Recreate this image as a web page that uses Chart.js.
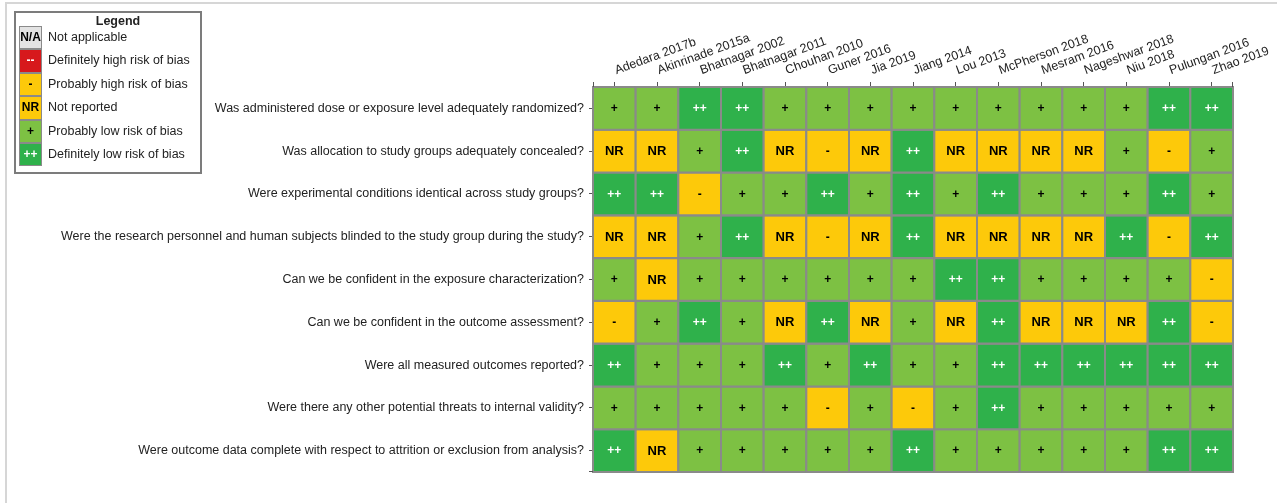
<!DOCTYPE html>
<html>
<head>
<meta charset="utf-8">
<script src="https://cdn.jsdelivr.net/npm/chart.js@4.4.1/dist/chart.umd.min.js"></script>
<style>
  html, body { margin:0; padding:0; background:#fff; width:1277px; height:503px; overflow:hidden; }
  #frame { position:absolute; left:5px; top:2px; width:1300px; height:520px; border-top:2px solid #d6d6d6; border-left:2px solid #d6d6d6; }
  #wrap { position:absolute; left:0; top:0; width:1277px; height:503px; }
  #legend { position:absolute; left:14px; top:11px; width:184px; height:159px; border:2px solid #7c7c7c; background:#fff;
            font-family:"Liberation Sans", Arial, sans-serif; font-size:12.5px; color:#222; }
  #legend .title { position:absolute; left:10px; top:1px; width:100%; text-align:center; font-weight:bold; line-height:15px; }
  #legend .sw { position:absolute; left:3px; width:23px; height:23.4px; box-sizing:border-box; border:1px solid #8a8a8a;
                text-align:center; line-height:21px; font-weight:bold; font-size:12px; }
  #legend .lab { position:absolute; left:32px; line-height:23.4px; white-space:nowrap; }
</style>
</head>
<body>
<div id="frame"></div>
<div id="wrap"><canvas id="c" width="1277" height="503"></canvas></div>
<div id="legend"></div>
<script>
// ---- data ----
const studies = ['Adedara 2017b','Akinrinade 2015a','Bhatnagar 2002','Bhatnagar 2011','Chouhan 2010','Guner 2016','Jia 2019','Jiang 2014','Lou 2013','McPherson 2018','Mesram 2016','Nageshwar 2018','Niu 2018','Pulungan 2016','Zhao 2019'];
const questions = [
  'Was administered dose or exposure level adequately randomized?',
  'Was allocation to study groups adequately concealed?',
  'Were experimental conditions identical across study groups?',
  'Were the research personnel and human subjects blinded to the study group during the study?',
  'Can we be confident in the exposure characterization?',
  'Can we be confident in the outcome assessment?',
  'Were all measured outcomes reported?',
  'Were there any other potential threats to internal validity?',
  'Were outcome data complete with respect to attrition or exclusion from analysis?'
];
const randomized    = ['+','+','++','++','+','+','+','+','+','+','+','+','+','++','++'];
const concealed     = ['NR','NR','+','++','NR','-','NR','++','NR','NR','NR','NR','+','-','+'];
const conditions    = ['++','++','-','+','+','++','+','++','+','++','+','+','+','++','+'];
const blinded       = ['NR','NR','+','++','NR','-','NR','++','NR','NR','NR','NR','++','-','++'];
const exposure      = ['+','NR','+','+','+','+','+','+','++','++','+','+','+','+','-'];
const outcomeAssess = ['-','+','++','+','NR','++','NR','+','NR','++','NR','NR','NR','++','-'];
const reported      = ['++','+','+','+','++','+','++','+','+','++','++','++','++','++','++'];
const otherThreats  = ['+','+','+','+','+','-','+','-','+','++','+','+','+','+','+'];
const attrition     = ['++','NR','+','+','+','+','+','++','+','+','+','+','+','++','++'];
const ratingRows = [randomized, concealed, conditions, blinded, exposure, outcomeAssess, reported, otherThreats, attrition];

const legendCodes  = ['N/A','--','-','NR','+','++'];
const legendLabels = ['Not applicable','Definitely high risk of bias','Probably high risk of bias','Not reported','Probably low risk of bias','Definitely low risk of bias'];

// ---- styles ----
const fillColor = { 'N/A':'#e3e3e3', '--':'#d7191c', '-':'#fdc90a', 'NR':'#fdc90a', '+':'#7dc143', '++':'#2fb14b' };
const textColor = { 'N/A':'#000', '--':'#fff', '-':'#000', 'NR':'#000', '+':'#000', '++':'#fff' };
const FONT = '"Liberation Sans", Arial, sans-serif';

// legend (HTML)
const lg = document.getElementById('legend');
lg.innerHTML = '<div class="title">Legend</div>';
legendCodes.forEach((code, i) => {
  const top = 13 + i * 23.4;
  const sw = document.createElement('div');
  sw.className = 'sw';
  sw.style.top = top + 'px';
  sw.style.background = fillColor[code];
  sw.style.color = textColor[code];
  sw.textContent = code;
  lg.appendChild(sw);
  const lb = document.createElement('div');
  lb.className = 'lab';
  lb.style.top = top + 'px';
  lb.textContent = legendLabels[i];
  lg.appendChild(lb);
});

const cellRadius = ctx => {
  const sx = ctx.chart.scales.x;
  return Math.abs(sx.getPixelForValue(1) - sx.getPixelForValue(0)) / Math.SQRT2;
};

const datasets = questions.map((q, qi) => ({
  label: q,
  data: studies.map((s, si) => ({ x: s, y: q, code: ratingRows[qi][si] })),
  pointStyle: 'rect',
  backgroundColor: ctx => fillColor[ctx.raw.code],
  borderColor: '#8a8a8a',
  borderWidth: 2,
  radius: cellRadius,
  hoverRadius: cellRadius,
  clip: false
}));

const cellText = {
  id: 'cellText',
  afterDatasetsDraw(chart) {
    const ctx = chart.ctx;
    ctx.save();
    ctx.textAlign = 'center';
    ctx.textBaseline = 'middle';
    chart.data.datasets.forEach((ds, di) => {
      chart.getDatasetMeta(di).data.forEach((el, i) => {
        const code = ds.data[i].code;
        ctx.fillStyle = textColor[code];
        ctx.font = (code === 'NR' ? 'bold 13px ' : 'bold 12px ') + FONT;
        ctx.fillText(code, el.x, el.y + 0.5);
      });
    });
    ctx.restore();
  }
};

const endTicks = {
  id: 'endTicks',
  afterDraw(chart) {
    const { left, right, top, bottom } = chart.chartArea;
    const ctx = chart.ctx;
    ctx.save();
    ctx.strokeStyle = '#555';
    ctx.lineWidth = 1;
    ctx.beginPath();
    ctx.moveTo(left + 0.5, top); ctx.lineTo(left + 0.5, top - 5);
    ctx.moveTo(right - 0.5, top); ctx.lineTo(right - 0.5, top - 5);
    ctx.moveTo(left, bottom - 0.5); ctx.lineTo(left - 4, bottom - 0.5);
    ctx.stroke();
    ctx.restore();
  }
};

Chart.defaults.font.family = FONT;
Chart.defaults.font.size = 12.5;
Chart.defaults.color = '#222';

new Chart(document.getElementById('c'), {
  type: 'scatter',
  data: { datasets },
  options: {
    responsive: false,
    animation: false,
    events: [],
    layout: { padding: { left: 0, top: 0, right: 44, bottom: 31 } },
    plugins: { legend: { display: false }, tooltip: { enabled: false } },
    scales: {
      x: {
        type: 'category',
        labels: studies,
        position: 'top',
        offset: true,
        grid: { display: true, drawOnChartArea: false, drawTicks: true, tickLength: 5, color: '#555', offset: false },
        border: { display: true, color: '#555', width: 1 },
        ticks: { autoSkip: false, minRotation: 20, maxRotation: 20, padding: 4, labelOffset: 6, color: '#222' },
        afterFit(scale) { scale.height = 87; scale.paddingLeft = 0; scale.paddingRight = 0; }
      },
      y: {
        type: 'category',
        labels: questions,
        position: 'left',
        offset: true,
        grid: { display: true, drawOnChartArea: false, drawTicks: true, tickLength: 4, color: '#555', offset: false },
        border: { display: true, color: '#555', width: 1 },
        ticks: { autoSkip: false, padding: 5, color: '#222' },
        afterFit(scale) { scale.width = 593; scale.paddingTop = 0; scale.paddingBottom = 0; }
      }
    }
  },
  plugins: [cellText, endTicks]
});
</script>
</body>
</html>
